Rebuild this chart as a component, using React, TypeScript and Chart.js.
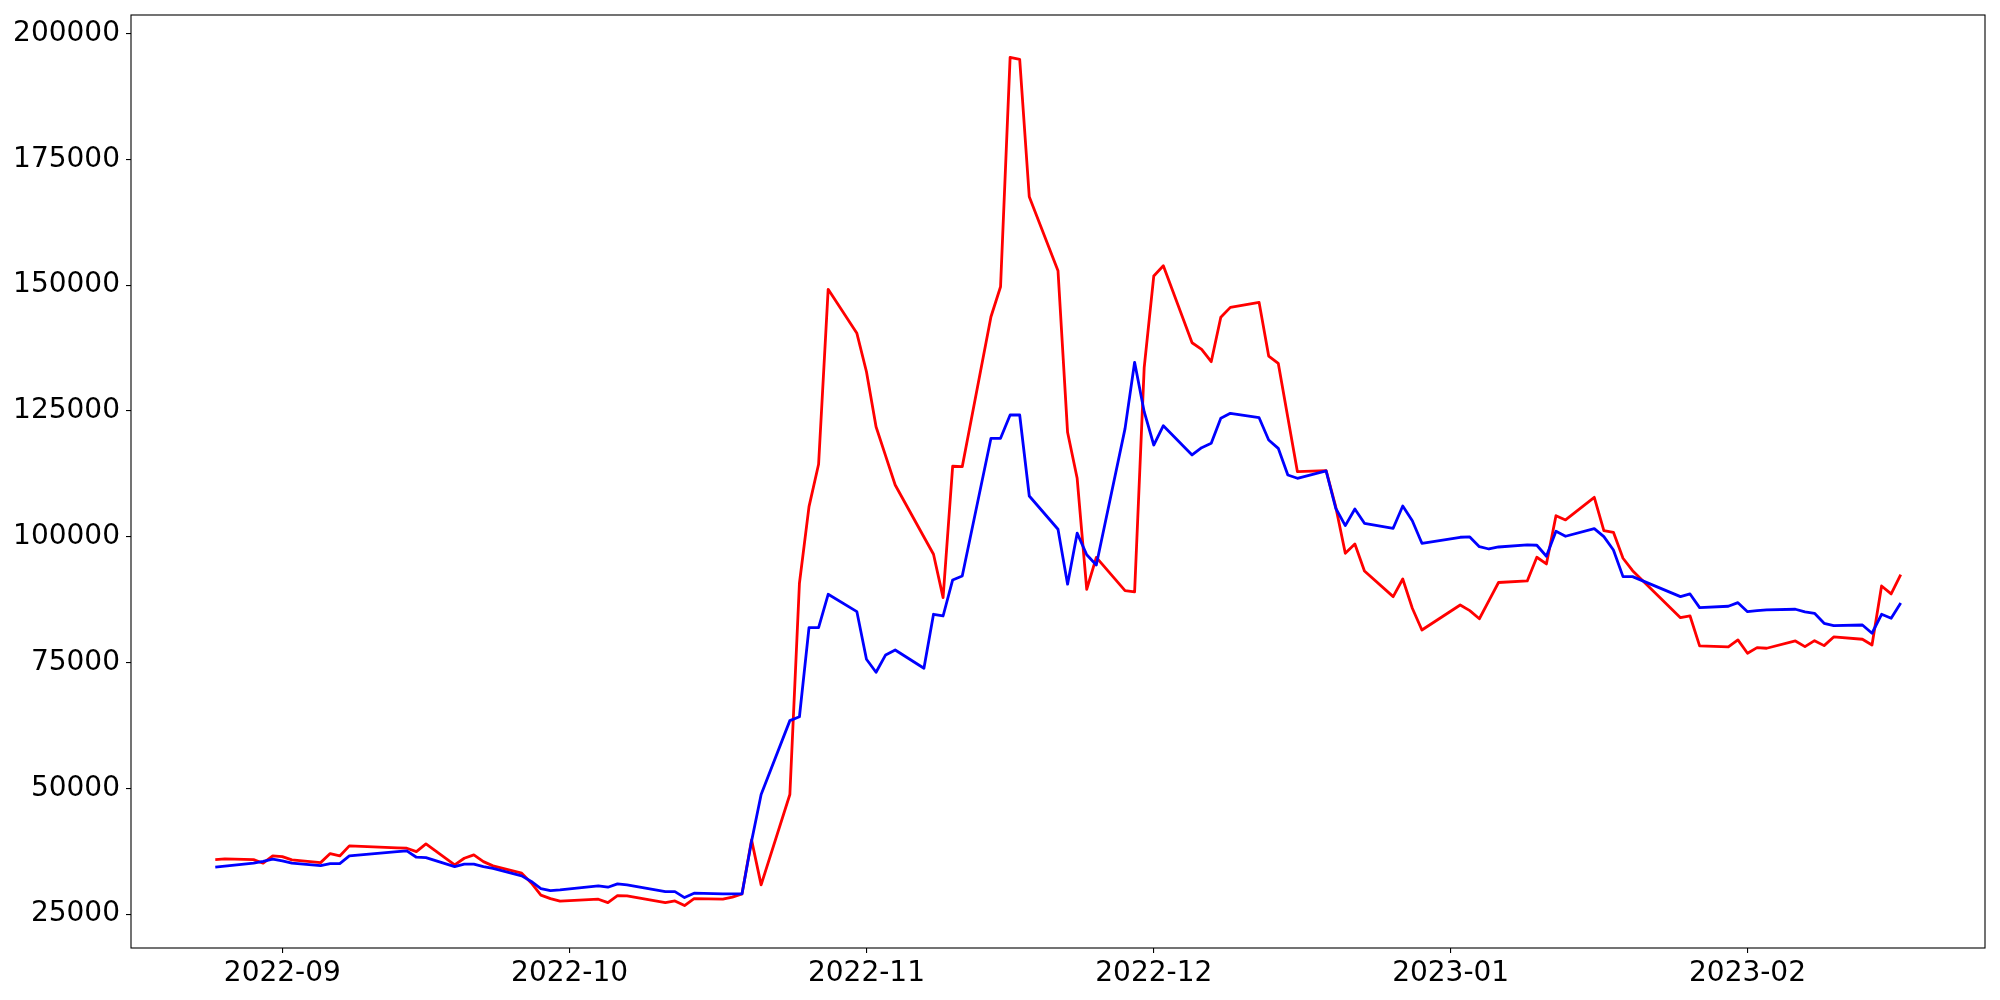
import React, { useEffect, useRef } from "react";
import { Chart, registerables } from "chart.js";

Chart.register(...registerables);

const dates: string[] = [
  "2022-08-25", "2022-08-26", "2022-08-29", "2022-08-30", "2022-08-31",
  "2022-09-01", "2022-09-02", "2022-09-05", "2022-09-06", "2022-09-07", "2022-09-08",
  "2022-09-13", "2022-09-14", "2022-09-15", "2022-09-16", "2022-09-19", "2022-09-20",
  "2022-09-21", "2022-09-22", "2022-09-23", "2022-09-26", "2022-09-27", "2022-09-28",
  "2022-09-29", "2022-09-30",
  "2022-10-04", "2022-10-05", "2022-10-06", "2022-10-07", "2022-10-11", "2022-10-12",
  "2022-10-13", "2022-10-14", "2022-10-17", "2022-10-18", "2022-10-19", "2022-10-20",
  "2022-10-21", "2022-10-24", "2022-10-25", "2022-10-26", "2022-10-27", "2022-10-28",
  "2022-10-31",
  "2022-11-01", "2022-11-02", "2022-11-03", "2022-11-04", "2022-11-07", "2022-11-08",
  "2022-11-09", "2022-11-10", "2022-11-11", "2022-11-14", "2022-11-15", "2022-11-16",
  "2022-11-17", "2022-11-18", "2022-11-21", "2022-11-22", "2022-11-23", "2022-11-24",
  "2022-11-25", "2022-11-28", "2022-11-29", "2022-11-30",
  "2022-12-01", "2022-12-02", "2022-12-05", "2022-12-06", "2022-12-07", "2022-12-08",
  "2022-12-09", "2022-12-12", "2022-12-13", "2022-12-14", "2022-12-15", "2022-12-16",
  "2022-12-19", "2022-12-20", "2022-12-21", "2022-12-22", "2022-12-23", "2022-12-26",
  "2022-12-27", "2022-12-28", "2022-12-29",
  "2023-01-02", "2023-01-03", "2023-01-04", "2023-01-05", "2023-01-06", "2023-01-09",
  "2023-01-10", "2023-01-11", "2023-01-12", "2023-01-13", "2023-01-16", "2023-01-17",
  "2023-01-18", "2023-01-19", "2023-01-20", "2023-01-25", "2023-01-26", "2023-01-27",
  "2023-01-30", "2023-01-31",
  "2023-02-01", "2023-02-02", "2023-02-03", "2023-02-06", "2023-02-07", "2023-02-08",
  "2023-02-09", "2023-02-10", "2023-02-13", "2023-02-14", "2023-02-15", "2023-02-16",
  "2023-02-17",
];

const redValues: number[] = [
  35850, 35980, 35850, 35130, 36600,
  36440, 35790, 35250, 37040, 36580, 38570,
  38170, 38110, 37430, 38960, 34790, 36120,
  36780, 35450, 34600, 33140, 31200, 28800,
  28100, 27600,
  27980, 27300, 28700, 28630, 27300, 27640,
  26710, 28100, 27980, 28380, 29030, 39760,
  30820, 48780, 90750, 105970, 114390, 149150,
  140410,
  132780, 121860, 116070, 110280, 99950, 96510,
  87890, 114000, 113910, 143710, 149670, 195230,
  194840, 167540, 152840, 120740, 111600, 89560,
  95890, 89300, 89060, 133600,
  151790, 153840, 138540, 137230, 134770, 143590,
  145570, 146560, 135900, 134450, 123700, 112920,
  113120, 105970, 96710, 98560, 93190, 88090,
  91600, 85780, 81470,
  86440, 85310, 83700, 87300, 90900, 91210,
  95920, 94590, 104180, 103330, 107830, 101200,
  100880, 95720, 93250, 83920, 84250, 78300,
  78100, 79490,
  76850, 77960, 77840, 79290, 78160, 79350,
  78360, 80080, 79630, 78490, 90210, 88630,
  92460,
];

const blueValues: number[] = [
  34340, 34540, 35130, 35480, 35930,
  35590, 35130, 34650, 35050, 35050, 36580,
  37430, 37570, 36320, 36240, 34460, 34930,
  34930, 34460, 34100, 32610, 31500, 30100,
  29700, 29850,
  30620, 30360, 31020, 30820, 29490, 29490,
  28300, 29170, 29030, 29030, 29030, 39500,
  48780, 63460, 64230, 81930, 81930, 88560,
  85110,
  75650, 73070, 76510, 77500, 73870, 84590,
  84250, 91410, 92200, 119550, 119550, 124180,
  124180, 108090, 101480, 90570, 100700, 96410,
  94380, 121480, 134650, 124840,
  118220, 122060, 116240, 117690, 118560, 123530,
  124520, 123640, 119220, 117560, 112260, 111610,
  113060, 105650, 102200, 105520, 102670, 101670,
  106100, 103180, 98690,
  99890, 99950, 98020, 97560, 97960, 98360,
  98300, 96110, 101080, 100090, 101600, 100010,
  97370, 92070, 92070, 88090, 88630, 85910,
  86180, 86900,
  85110, 85300, 85450, 85590, 85050, 84790,
  82800, 82320, 82460, 80820, 84590, 83800,
  86840,
];

const yTickValues: number[] = [25000, 50000, 75000, 100000, 125000, 150000, 175000, 200000];
const xTickMonths: string[] = ["2022-09-01", "2022-10-01", "2022-11-01", "2022-12-01", "2023-01-01", "2023-02-01"];

const DAY_MS = 86400000;
const ORIGIN = Date.UTC(2022, 8, 1);

function toDay(s: string): number {
  const [y, m, d] = s.split("-").map(Number);
  return (Date.UTC(y, m - 1, d) - ORIGIN) / DAY_MS;
}

function monthLabel(day: number): string {
  const dt = new Date(ORIGIN + Math.round(day) * DAY_MS);
  const y = dt.getUTCFullYear();
  const m = dt.getUTCMonth() + 1;
  return `${y}-${m < 10 ? "0" + m : m}`;
}

const FONT = { family: "'DejaVu Sans', sans-serif", size: 28 };

const framePlugin = {
  id: "frame",
  afterDraw(chart: any) {
    const { ctx, chartArea } = chart;
    ctx.save();
    ctx.strokeStyle = "#000000";
    ctx.lineWidth = 1.1;
    ctx.strokeRect(chartArea.left, chartArea.top, chartArea.right - chartArea.left, chartArea.bottom - chartArea.top);
    ctx.restore();
  },
};

export default function App() {
  const canvasRef = useRef<HTMLCanvasElement | null>(null);

  useEffect(() => {
    if (!canvasRef.current) return;
    const xs = dates.map(toDay);
    const x0 = Math.min(...xs);
    const x1 = Math.max(...xs);
    const all = [...redValues, ...blueValues];
    const y0 = Math.min(...all);
    const y1 = Math.max(...all);
    const xPad = (x1 - x0) * 0.05;
    const yPad = (y1 - y0) * 0.05;

    const chart = new Chart(canvasRef.current, {
      type: "line",
      data: {
        datasets: [
          {
            label: "blue",
            data: xs.map((x, i) => ({ x, y: blueValues[i] })),
            borderColor: "#0000ff",
            backgroundColor: "#0000ff",
            borderWidth: 2.8,
            pointRadius: 0,
            tension: 0,
            fill: false,
            borderJoinStyle: "round",
            order: 0,
          },
          {
            label: "red",
            data: xs.map((x, i) => ({ x, y: redValues[i] })),
            borderColor: "#ff0000",
            backgroundColor: "#ff0000",
            borderWidth: 2.8,
            pointRadius: 0,
            tension: 0,
            fill: false,
            borderJoinStyle: "round",
            order: 1,
          },
        ],
      },
      options: {
        animation: false,
        responsive: false,
        devicePixelRatio: 1,
        layout: { padding: { top: 15, right: 15, left: 0, bottom: 0 } },
        plugins: { legend: { display: false }, tooltip: { enabled: false } },
        scales: {
          x: {
            type: "linear",
            min: x0 - xPad,
            max: x1 + xPad,
            afterBuildTicks: (scale: any) => {
              scale.ticks = xTickMonths.map((m) => ({ value: toDay(m) }));
            },
            afterFit: (scale: any) => {
              scale.height = 52;
              scale.paddingLeft = 0;
              scale.paddingRight = 0;
            },
            grid: {
              display: true,
              drawOnChartArea: false,
              drawTicks: true,
              tickLength: 5,
              color: "#000000",
              lineWidth: 1.1,
            },
            border: { display: false },
            ticks: {
              autoSkip: false,
              maxRotation: 0,
              minRotation: 0,
              padding: 4,
              color: "#000000",
              font: FONT,
              callback: (v: any) => monthLabel(Number(v)),
            },
          },
          y: {
            type: "linear",
            min: y0 - yPad,
            max: y1 + yPad,
            afterBuildTicks: (scale: any) => {
              scale.ticks = yTickValues.map((v) => ({ value: v }));
            },
            afterFit: (scale: any) => {
              scale.width = 131;
              scale.paddingTop = 0;
              scale.paddingBottom = 0;
            },
            grid: {
              display: true,
              drawOnChartArea: false,
              drawTicks: true,
              tickLength: 5,
              color: "#000000",
              lineWidth: 1.1,
            },
            border: { display: false },
            ticks: {
              autoSkip: false,
              padding: 6,
              color: "#000000",
              font: FONT,
              callback: (v: any) => String(v),
            },
          },
        },
      },
      plugins: [framePlugin],
    } as any);

    return () => chart.destroy();
  }, []);

  return (
    <div style={{ position: "absolute", left: 0, top: 0, width: 2000, height: 1000, background: "#ffffff" }}>
      <canvas ref={canvasRef} width={2000} height={1000} style={{ display: "block", width: 2000, height: 1000 }} />
    </div>
  );
}
